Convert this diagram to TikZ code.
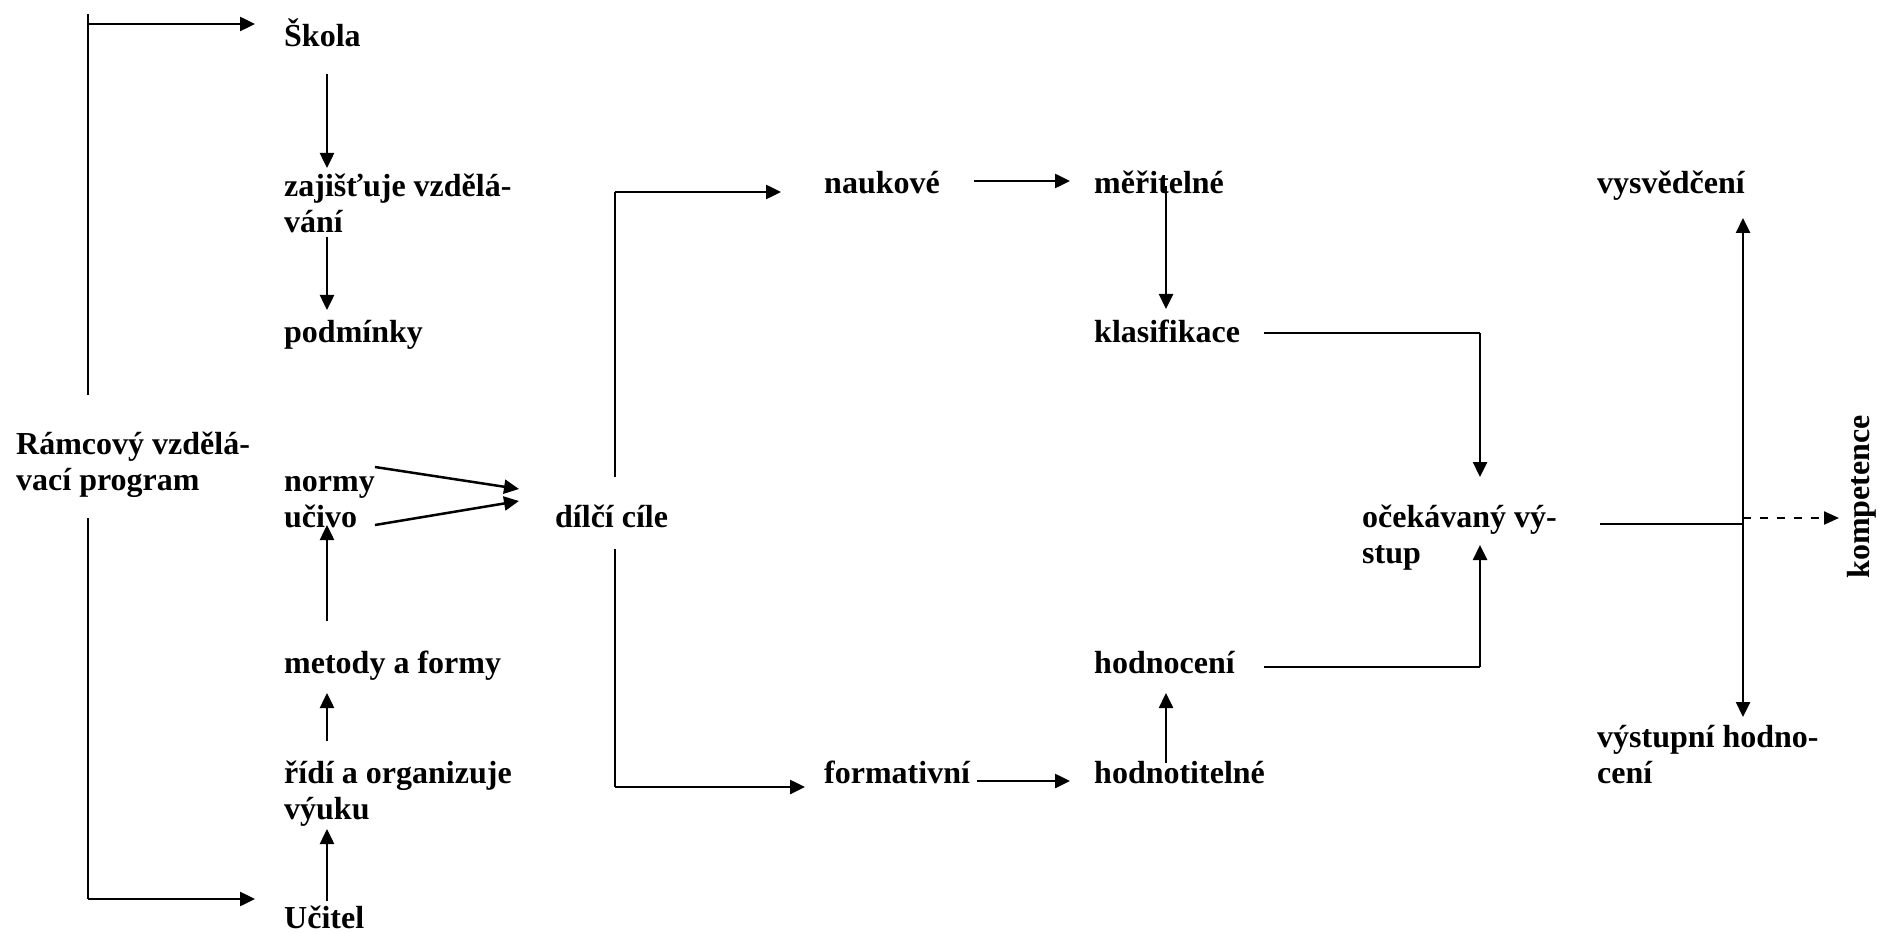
\documentclass[tikz,border=0pt]{standalone}
\usepackage{fontspec}
\setmainfont{Liberation Serif}
\usetikzlibrary{arrows.meta}
\newcommand{\mytwo}[2]{\vtop{\hbox{#1}\hbox{#2}}}
\begin{document}
\begin{tikzpicture}[x=1pt,y=-1pt,
  lbl/.style={anchor=base west, inner sep=0pt, font=\fontsize{32}{36}\selectfont\bfseries},
  arr/.style={line width=2.5pt, -{Triangle[length=15pt,width=14pt]}},
  ln/.style={line width=2pt},
  dsh/.style={line width=2.3pt, dash pattern=on 8pt off 9pt, -{Triangle[length=15pt,width=13pt]}}]
\useasboundingbox (0,0) rectangle (1879,933);
% text nodes
\node[lbl] (skola) at (284,47) {Škola};
\node[lbl] (zaj) at (284,197) {\mytwo{zajišťuje vzdělá-}{vání}};
\node[lbl] (podm) at (284,342) {podmínky};
\node[lbl] (rvp) at (16,454) {\mytwo{Rámcový vzdělá-}{vací program}};
\node[lbl] (normy) at (284,491) {normy};
\node[lbl] (ucivo) at (284,527) {učivo};
\node[lbl] (dilci) at (555,527) {dílčí cíle};
\node[lbl] (metody) at (284,673) {metody a formy};
\node[lbl] (ridi) at (284,783) {\mytwo{řídí a organizuje}{výuku}};
\node[lbl] (ucitel) at (284,928) {Učitel};
\node[lbl] (nauk) at (824,194) {naukové};
\node[lbl] (mer) at (1094,194) {měřitelné};
\node[lbl] (klas) at (1094,342) {klasifikace};
\node[lbl] (form) at (824,783) {formativní};
\node[lbl] (hodt) at (1094,783) {hodnotitelné};
\node[lbl] (hodn) at (1094,673) {hodnocení};
\node[lbl] (ocek) at (1362,527) {\mytwo{očekávaný vý-}{stup}};
\node[lbl] (vysv) at (1597,194) {vysvědčení};
\node[lbl] (vyst) at (1597,747) {\mytwo{výstupní hodno-}{cení}};
\node[lbl, rotate=90, anchor=center] (komp) at (1862,497) {kompetence};
% coordinates
\coordinate (rvpT0) at (87.5,14);
\coordinate (rvpT1) at (87.5,395);
\coordinate (rvpTa) at (87.5,24);
\coordinate (skolaIn) at (255,24);
\coordinate (rvpB0) at (87.5,518);
\coordinate (rvpB1) at (87.5,899);
\coordinate (ucitelIn) at (255,899);
\coordinate (skolaOut) at (327,74);
\coordinate (zajIn) at (327,168);
\coordinate (zajOut) at (327,237);
\coordinate (podmIn) at (327,310);
\coordinate (normyOut) at (375,467);
\coordinate (ucivoOut) at (375,525);
\coordinate (dilciIn1) at (519,489);
\coordinate (dilciIn2) at (519,501);
\coordinate (metodyOut) at (327,621);
\coordinate (ucivoIn) at (327,525);
\coordinate (ridiOut) at (327,741);
\coordinate (metodyIn) at (327,693);
\coordinate (ucitelOut) at (327,901);
\coordinate (ridiIn) at (327,829);
\coordinate (dilciUp) at (615,477);
\coordinate (dilciTop) at (615,192);
\coordinate (naukIn) at (781,192);
\coordinate (dilciDn) at (615,549);
\coordinate (dilciBot) at (615,787);
\coordinate (formIn) at (805,787);
\coordinate (naukOut) at (974,181);
\coordinate (merIn) at (1070,181);
\coordinate (merOut) at (1166,186);
\coordinate (klasIn) at (1166,309);
\coordinate (formOut) at (977,781);
\coordinate (hodtIn) at (1070,781);
\coordinate (hodtOut) at (1166,763);
\coordinate (hodnIn) at (1166,693);
\coordinate (klasOut) at (1264,333);
\coordinate (klasCorner) at (1480,333);
\coordinate (ocekInT) at (1480,477);
\coordinate (hodnOut) at (1264,667);
\coordinate (hodnCorner) at (1480,667);
\coordinate (ocekInB) at (1480,545);
\coordinate (ocekOut) at (1600,524);
\coordinate (junc) at (1743,524);
\coordinate (vysvIn) at (1743,218);
\coordinate (vystIn) at (1743,717);
\coordinate (juncD) at (1743,518);
\coordinate (kompIn) at (1839,518);
% connectors
\draw[ln] (rvpT0) -- (rvpT1);
\draw[arr] (rvpTa) -- (skolaIn);
\draw[ln] (rvpB0) -- (rvpB1);
\draw[arr] (rvpB1) -- (ucitelIn);
\draw[arr] (skolaOut) -- (zajIn);
\draw[arr] (zajOut) -- (podmIn);
\draw[arr] (normyOut) -- (dilciIn1);
\draw[arr] (ucivoOut) -- (dilciIn2);
\draw[arr] (metodyOut) -- (ucivoIn);
\draw[arr] (ridiOut) -- (metodyIn);
\draw[arr] (ucitelOut) -- (ridiIn);
\draw[ln] (dilciUp) -- (dilciTop);
\draw[arr] (dilciTop) -- (naukIn);
\draw[ln] (dilciDn) -- (dilciBot);
\draw[arr] (dilciBot) -- (formIn);
\draw[arr] (naukOut) -- (merIn);
\draw[arr] (merOut) -- (klasIn);
\draw[arr] (formOut) -- (hodtIn);
\draw[arr] (hodtOut) -- (hodnIn);
\draw[ln] (klasOut) -- (klasCorner);
\draw[arr] (klasCorner) -- (ocekInT);
\draw[ln] (hodnOut) -- (hodnCorner);
\draw[arr] (hodnCorner) -- (ocekInB);
\draw[ln] (ocekOut) -- (junc);
\draw[arr] (junc) -- (vysvIn);
\draw[arr] (junc) -- (vystIn);
\draw[dsh] (juncD) -- (kompIn);
\end{tikzpicture}
\end{document}
